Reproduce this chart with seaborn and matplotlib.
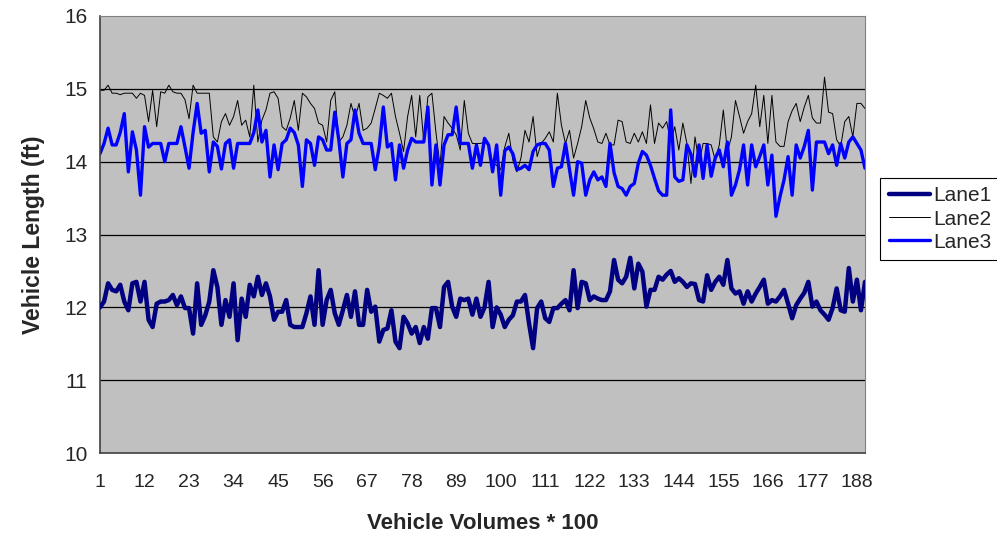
import matplotlib
matplotlib.use('Agg')
import matplotlib.pyplot as plt
import seaborn as sns
import pandas as pd

# values, one per vehicle-volume step (1..190)
lane1 = [
    12.00, 12.08, 12.33, 12.24, 12.22, 12.31, 12.08, 11.96, 12.33, 12.35,
    12.08, 12.35, 11.83, 11.73, 12.05, 12.08, 12.08, 12.10, 12.17, 12.03,
    12.15, 11.99, 11.99, 11.64, 12.33, 11.76, 11.89, 12.08, 12.51, 12.28,
    11.76, 12.10, 11.87, 12.33, 11.55, 12.12, 11.87, 12.31, 12.15, 12.42,
    12.17, 12.33, 12.15, 11.83, 11.94, 11.94, 12.10, 11.76, 11.73, 11.73,
    11.73, 11.92, 12.15, 11.76, 12.51, 11.76, 12.10, 12.24, 11.92, 11.76,
    11.96, 12.17, 11.87, 12.22, 11.76, 11.76, 12.24, 11.94, 12.01, 11.53,
    11.69, 11.71, 11.96, 11.53, 11.44, 11.87, 11.78, 11.64, 11.73, 11.51,
    11.73, 11.57, 11.99, 11.99, 11.73, 12.28, 12.35, 12.01, 11.87, 12.12,
    12.10, 12.12, 11.90, 12.12, 11.87, 12.00, 12.35, 11.73, 12.00, 11.90,
    11.73, 11.83, 11.89, 12.08, 12.08, 12.17, 11.78, 11.44, 11.99, 12.08,
    11.85, 11.80, 11.99, 11.99, 12.05, 12.10, 11.96, 12.51, 11.99, 12.35,
    12.33, 12.10, 12.15, 12.12, 12.10, 12.10, 12.22, 12.65, 12.38, 12.33,
    12.42, 12.68, 12.26, 12.60, 12.49, 12.01, 12.24, 12.24, 12.42, 12.38,
    12.45, 12.50, 12.35, 12.40, 12.35, 12.28, 12.33, 12.32, 12.10, 12.08,
    12.44, 12.24, 12.35, 12.42, 12.31, 12.65, 12.26, 12.19, 12.22, 12.05,
    12.22, 12.08, 12.19, 12.28, 12.38, 12.05, 12.10, 12.08, 12.15, 12.24,
    12.05, 11.85, 12.03, 12.12, 12.20, 12.35, 12.01, 12.08, 11.96, 11.90,
    11.83, 11.99, 12.26, 11.96, 11.94, 12.54, 12.08, 12.38, 11.96, 12.35,
]
lane2 = [
    14.98, 14.98, 15.05, 14.94, 14.94, 14.92, 14.94, 14.94, 14.94, 14.87,
    14.94, 14.91, 14.55, 14.98, 14.48, 14.96, 14.94, 15.05, 14.96, 14.94,
    14.94, 14.85, 14.59, 15.05, 14.94, 14.94, 14.94, 14.94, 14.34, 14.27,
    14.55, 14.66, 14.50, 14.62, 14.84, 14.50, 14.57, 14.34, 15.05, 14.27,
    14.57, 14.71, 14.94, 14.96, 14.87, 14.48, 14.43, 14.60, 14.84, 14.43,
    14.94, 14.89, 14.80, 14.73, 14.53, 14.50, 14.27, 14.84, 14.96, 14.27,
    14.34, 14.50, 14.80, 14.60, 14.80, 14.43, 14.46, 14.53, 14.73, 14.94,
    14.91, 14.87, 14.94, 14.62, 14.39, 14.14, 14.62, 14.91, 14.34, 14.91,
    14.27, 14.89, 14.94, 14.40, 13.95, 14.62, 14.53, 14.46, 14.37, 14.16,
    14.84, 14.39, 14.25, 14.25, 14.25, 14.27, 14.23, 13.98, 13.95, 13.89,
    14.20, 14.39, 14.02, 13.86, 14.05, 14.43, 14.27, 14.62, 14.07, 14.25,
    14.32, 14.41, 14.27, 14.94, 14.50, 14.25, 14.43, 14.05, 14.25, 14.48,
    14.84, 14.60, 14.45, 14.27, 14.25, 14.39, 14.23, 14.23, 14.57, 14.55,
    14.27, 14.25, 14.39, 14.27, 14.41, 14.25, 14.78, 14.25, 14.53, 14.46,
    14.55, 14.27, 14.48, 14.16, 14.53, 14.25, 13.70, 14.34, 13.98, 14.25,
    14.25, 14.23, 14.02, 14.23, 14.71, 14.14, 14.34, 14.84, 14.62, 14.39,
    14.55, 14.66, 15.05, 14.48, 14.91, 14.25, 14.91, 14.27, 14.21, 14.21,
    14.55, 14.70, 14.80, 14.55, 14.75, 14.91, 14.60, 14.53, 14.53, 15.16,
    14.68, 14.66, 14.30, 14.21, 14.55, 14.62, 14.34, 14.80, 14.80, 14.73,
]
lane3 = [
    14.11, 14.25, 14.46, 14.23, 14.23, 14.40, 14.66, 13.86, 14.41, 14.16,
    13.54, 14.48, 14.20, 14.25, 14.25, 14.25, 14.00, 14.25, 14.25, 14.25,
    14.48, 14.20, 13.91, 14.40, 14.80, 14.39, 14.43, 13.86, 14.27, 14.21,
    13.90, 14.25, 14.30, 13.91, 14.25, 14.25, 14.25, 14.25, 14.40, 14.71,
    14.27, 14.43, 13.79, 14.23, 13.89, 14.25, 14.30, 14.46, 14.40, 14.23,
    13.66, 14.30, 14.25, 13.95, 14.34, 14.30, 14.16, 14.16, 14.68, 14.30,
    13.79, 14.25, 14.30, 14.71, 14.39, 14.25, 14.25, 14.25, 13.89, 14.21,
    14.75, 14.20, 14.25, 13.75, 14.23, 13.91, 14.16, 14.32, 14.27, 14.27,
    14.27, 14.75, 13.68, 14.23, 13.68, 14.23, 14.37, 14.37, 14.75, 14.25,
    14.25, 14.25, 13.91, 14.23, 13.95, 14.32, 14.23, 13.86, 14.23, 13.54,
    14.15, 14.20, 14.11, 13.89, 13.91, 13.95, 13.89, 14.14, 14.23, 14.25,
    14.25, 14.16, 13.66, 13.91, 13.93, 14.25, 13.89, 13.54, 14.00, 13.98,
    13.54, 13.75, 13.86, 13.75, 13.79, 13.66, 14.25, 13.85, 13.66, 13.63,
    13.54, 13.66, 13.70, 13.98, 14.14, 14.09, 13.95, 13.77, 13.60, 13.54,
    13.54, 14.71, 13.79, 13.73, 13.75, 14.23, 14.10, 13.80, 14.23, 13.77,
    14.23, 13.80, 14.05, 14.16, 13.93, 14.27, 13.54, 13.68, 13.89, 14.23,
    13.68, 14.23, 13.93, 14.07, 14.23, 13.68, 14.09, 13.25, 13.52, 13.75,
    14.07, 13.54, 14.23, 14.05, 14.21, 14.43, 13.61, 14.27, 14.27, 14.27,
    14.11, 14.23, 13.95, 14.25, 14.05, 14.27, 14.34, 14.25, 14.16, 13.91,
]
volumes = list(range(1, len(lane1) + 1))
tick_labels = list(range(1, 189, 11))

df = pd.DataFrame({'volume': volumes, 'Lane1': lane1, 'Lane2': lane2, 'Lane3': lane3})

sns.set_style('white')
plt.rcParams['font.family'] = ['Liberation Sans', 'DejaVu Sans']

fig = plt.figure(figsize=(9.97, 5.33), dpi=100)
ax = fig.add_axes([0.1003, 0.150, 0.7673, 0.820])
ax.set_facecolor('#C0C0C0')

# gridlines first so the series draw on top
for v in range(11, 16):
    ax.axhline(v, color='black', lw=0.9, zorder=1)

sns.lineplot(data=df, x='volume', y='Lane1', ax=ax, color='#000080', lw=3.2, label='Lane1', zorder=3)
sns.lineplot(data=df, x='volume', y='Lane2', ax=ax, color='black', lw=0.7, label='Lane2', zorder=2)
sns.lineplot(data=df, x='volume', y='Lane3', ax=ax, color='#0000FF', lw=2.4, label='Lane3', zorder=2.5)

ax.set_xlim(1, len(volumes))
ax.set_ylim(10, 16)
ax.set_xticks(tick_labels)
ax.set_xticklabels([str(t) for t in tick_labels], fontsize=14)
ax.set_yticks(range(10, 17))
ax.set_yticklabels([str(v) for v in range(10, 17)], fontsize=15)
ax.tick_params(axis='y', length=6, width=1, color='#404040', direction='out', pad=3)
ax.tick_params(axis='x', length=0, pad=15)

for side in ['left', 'bottom']:
    ax.spines[side].set_color('#404040')
    ax.spines[side].set_linewidth(1.2)
for side in ['top', 'right']:
    ax.spines[side].set_color('#808080')
    ax.spines[side].set_linewidth(0.8)

ax.set_xlabel('Vehicle Volumes * 100', fontsize=16, fontweight='bold', labelpad=16)
ax.set_ylabel('Vehicle Length (ft)', fontsize=16.5, fontweight='bold', labelpad=14)

ax.legend(loc='upper left', bbox_to_anchor=(0.883, 0.666), bbox_transform=fig.transFigure,
          fontsize=15, frameon=True, fancybox=False, edgecolor='black', framealpha=1,
          handlelength=2.0, handletextpad=0.15, borderpad=0.4, labelspacing=0.2,
          borderaxespad=0)
ax.get_legend().get_frame().set_linewidth(0.8)

plt.savefig('out.png', dpi=100)
plt.close()
